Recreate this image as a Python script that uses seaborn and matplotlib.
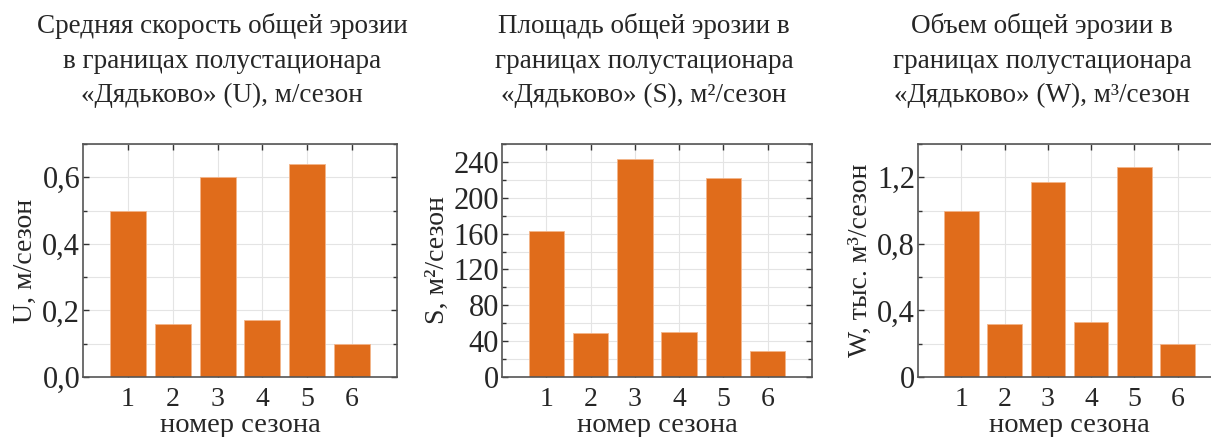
import matplotlib
matplotlib.use("Agg")
import matplotlib.pyplot as plt
import seaborn as sns
import pandas as pd
from matplotlib.ticker import MultipleLocator

seasons = [1, 2, 3, 4, 5, 6]
u_values = [0.50, 0.16, 0.60, 0.17, 0.64, 0.10]
s_values = [163, 49, 243, 50, 222, 29]
w_values = [1.00, 0.32, 1.17, 0.33, 1.26, 0.20]

titles = [
    "Средняя скорость общей эрозии\nв границах полустационара\n«Дядьково» (U), м/сезон",
    "Площадь общей эрозии в\nграницах полустационара\n«Дядьково» (S), м²/сезон",
    "Объем общей эрозии в\nграницах полустационара\n«Дядьково» (W), м³/сезон",
]
ylabels = ["U, м/сезон", "S, м²/сезон", "W, тыс. м³/сезон"]
xlabel = "номер сезона"

u_ticks = [0.0, 0.2, 0.4, 0.6]
u_ticklabels = ["0,0", "0,2", "0,4", "0,6"]
s_ticks = [0, 40, 80, 120, 160, 200, 240]
s_ticklabels = ["0", "40", "80", "120", "160", "200", "240"]
w_ticks = [0.0, 0.4, 0.8, 1.2]
w_ticklabels = ["0", "0,4", "0,8", "1,2"]

sns.set_theme(style="whitegrid")
plt.rcParams["font.family"] = ["Liberation Serif", "DejaVu Serif"]

bar_color = "#E06C1B"

fig = plt.figure(figsize=(12.11, 4.37), dpi=100)
W, H = 1211, 437

# axes boxes in pixels: left, right, top, bottom
boxes = [(83, 397, 144, 377), (502, 812, 144, 377), (918, 1221, 144, 377)]
title_x = [222, 644, 1042]

panels = [
    (u_values, 0.7, 0.1, u_ticks, u_ticklabels),
    (s_values, 260, 20, s_ticks, s_ticklabels),
    (w_values, 1.4, 0.2, w_ticks, w_ticklabels),
]

for i, (vals, ymax, minor, ticks, ticklabels) in enumerate(panels):
    l, r, t, b = boxes[i]
    ax = fig.add_axes([l / W, (H - b) / H, (r - l) / W, (b - t) / H])
    df = pd.DataFrame({"season": seasons, "value": vals})
    sns.barplot(data=df, x="season", y="value", native_scale=True, color=bar_color,
                saturation=1, width=0.8, edgecolor="#F3B58A", linewidth=0.6, ax=ax, zorder=2)
    ax.set_xlim(0, 7)
    ax.set_ylim(0, ymax)
    ax.set_xticks(seasons)
    ax.set_xticklabels([str(s) for s in seasons])
    ax.set_yticks(ticks)
    ax.set_yticklabels(ticklabels)
    ax.yaxis.set_minor_locator(MultipleLocator(minor))
    ax.grid(True, which="both", color="#E4E4E4", linewidth=0.8, zorder=0)
    ax.set_axisbelow(True)
    ax.tick_params(which="both", direction="in", top=True, right=True, bottom=True, left=True,
                   color="#333333", width=1.0)
    ax.tick_params(which="major", length=4)
    ax.tick_params(which="minor", length=3)
    ax.tick_params(axis="y", labelsize=22, pad=2)
    ax.tick_params(axis="x", labelsize=20, pad=7)
    for sp in ax.spines.values():
        sp.set_color("#555555")
        sp.set_linewidth(1.2)
    ax.set_xlabel(xlabel, fontsize=20.5, labelpad=1)
    ax.set_ylabel(ylabels[i], fontsize=20, labelpad=3)
    fig.text(title_x[i] / W, 1 - 13 / H, titles[i], ha="center", va="top",
             fontsize=19.5, linespacing=1.5)

fig.savefig("out.png", dpi=100)
